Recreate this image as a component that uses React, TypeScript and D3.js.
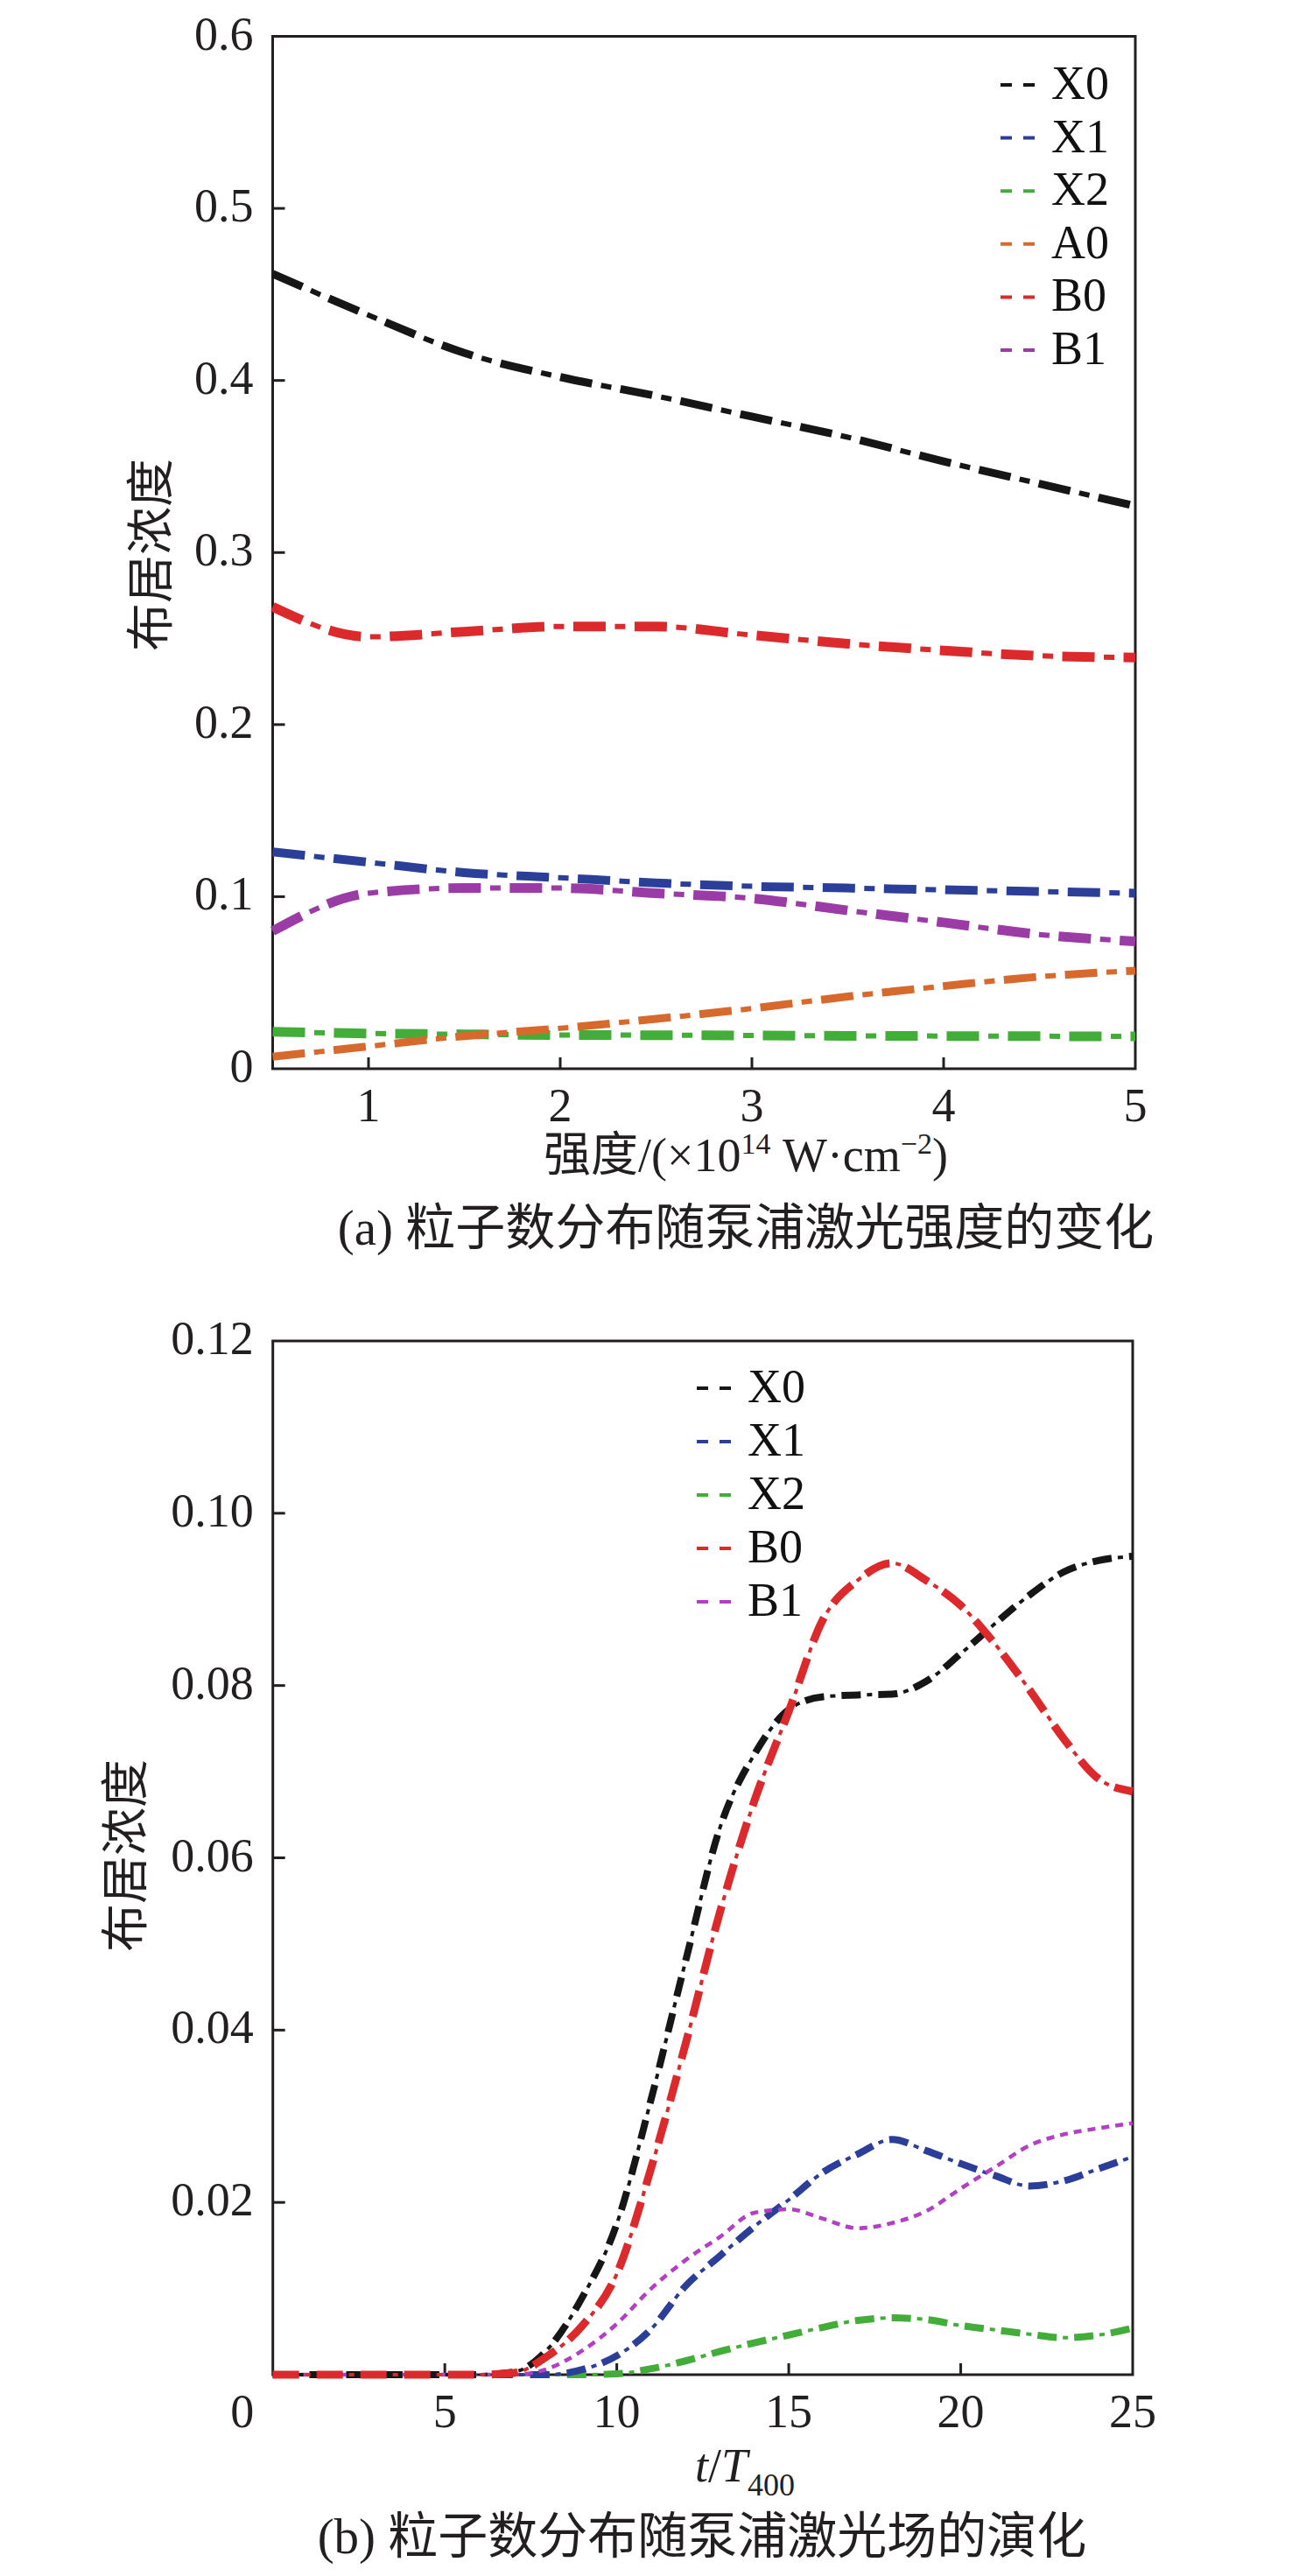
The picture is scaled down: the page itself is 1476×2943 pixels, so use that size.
import * as d3 from 'd3';

const W = 1476;
const H = 2943;
const FONT = "'Liberation Serif', 'Times New Roman', 'Noto Sans CJK SC', serif";
const INK = '#231f20';

// ---- (a) population vs pump intensity ----
const intensity = [0.5, 1, 1.5, 2, 2.5, 3, 3.5, 4, 4.5, 5];
const aX0 = [0.462, 0.438, 0.416, 0.402, 0.391, 0.379, 0.367, 0.353, 0.34, 0.327];
const aX1 = [0.126, 0.12, 0.114, 0.111, 0.108, 0.106, 0.105, 0.104, 0.103, 0.102];
const aX2 = [0.0215, 0.0205, 0.02, 0.0196, 0.0195, 0.0193, 0.0191, 0.019, 0.0189, 0.0188];
const aA0 = [0.007, 0.013, 0.019, 0.0235, 0.029, 0.035, 0.042, 0.048, 0.0535, 0.057];
const aB0 = [0.2685, 0.251, 0.254, 0.257, 0.257, 0.252, 0.247, 0.243, 0.24, 0.239];
const aB1 = [0.08, 0.102, 0.105, 0.105, 0.102, 0.099, 0.092, 0.085, 0.078, 0.074];
const aNames = ['X0', 'X1', 'X2', 'A0', 'B0', 'B1'];
const aColors = ['#161616', '#2c3f98', '#43ad3a', '#d8692c', '#dc2a2c', '#9a3ba6'];
const aWidths = [9, 10, 11, 9, 11, 11];
const aYTicks = [0, 0.1, 0.2, 0.3, 0.4, 0.5, 0.6];
const aXTicks = [1, 2, 3, 4, 5];

// ---- (b) population vs time ----
const time = [0, 1, 2, 3, 4, 5, 6, 7, 8, 9, 10, 11, 12, 13, 14, 15, 16, 17, 18, 19, 20, 21, 22, 23, 24, 25];
const bX0 = [0, 0, 0, 0, 0, 0, 0, 0.0003, 0.003, 0.009, 0.0175, 0.032, 0.048, 0.0635, 0.072, 0.0772,
  0.0787, 0.0789, 0.079, 0.0805, 0.0837, 0.0872, 0.0905, 0.0932, 0.0945, 0.095];
const bX1 = [0, 0, 0, 0, 0, 0, 0, 0, 0, 0.0006, 0.0022, 0.0053, 0.0103, 0.0138, 0.0172, 0.0203,
  0.0235, 0.0256, 0.0273, 0.026, 0.0245, 0.0231, 0.0219, 0.0225, 0.0239, 0.0253];
const bX2 = [0, 0, 0, 0, 0, 0, 0, 0, 0, 0, 0.0001, 0.0007, 0.0016, 0.0027, 0.0037, 0.0046,
  0.0055, 0.0063, 0.0066, 0.0064, 0.0057, 0.0052, 0.0047, 0.0043, 0.0046, 0.0054];
const bB0 = [0, 0, 0, 0, 0, 0, 0, 0.0002, 0.0022, 0.0057, 0.0117, 0.024, 0.0384, 0.0537, 0.0666, 0.077,
  0.0877, 0.0922, 0.0942, 0.0922, 0.0893, 0.0848, 0.0795, 0.0738, 0.0692, 0.0677];
const bB1 = [0, 0, 0, 0, 0, 0, 0, 0, 0.0007, 0.0028, 0.0059, 0.01, 0.0133, 0.016, 0.0188, 0.0192,
  0.0181, 0.017, 0.0176, 0.019, 0.0216, 0.0241, 0.0266, 0.0279, 0.0286, 0.0292];
const bNames = ['X0', 'X1', 'X2', 'B0', 'B1'];
const bColors = ['#161616', '#2c3f98', '#43ad3a', '#dc2a2c', '#b23fc4'];
const bYTicks = [0.02, 0.04, 0.06, 0.08, 0.1, 0.12];
const bYLabels = ['0.02', '0.04', '0.06', '0.08', '0.10', '0.12'];
const bXTicks = [0, 5, 10, 15, 20, 25];

const xA = d3.scaleLinear().domain([0.5, 5]).range([311.5, 1297]);
const yA = d3.scaleLinear().domain([0, 0.6]).range([1221, 41.5]);
const xB = d3.scaleLinear().domain([0, 25]).range([311.7, 1294]);
const yB = d3.scaleLinear().domain([0, 0.12]).range([2713, 1532]);

type Pattern = { dash: number; gap: number; dot: number; w: number; thin: number };

function DashDot({ d, color, p }: { d: string; color: string; p: Pattern }) {
  const period = p.dash + p.gap * 2 + p.dot;
  return (
    <g fill="none" stroke={color}>
      <path d={d} strokeWidth={p.w} strokeDasharray={`${p.dash} ${period - p.dash}`} />
      {p.dot > 0 && (
        <path d={d} strokeWidth={p.thin} strokeDasharray={`0 ${p.dash + p.gap} ${p.dot} ${p.gap}`} />
      )}
    </g>
  );
}

function Frame({ x, y, yTicks, yLabels, xTicks, xLabels, xLabelDx }: any) {
  const [x0, x1] = x.range();
  const [y0, y1] = y.range();
  return (
    <g fontFamily={FONT} fontSize={54} fill={INK}>
      <rect x={x0} y={y1} width={x1 - x0} height={y0 - y1} fill="none" stroke={INK} strokeWidth={3} />
      {yTicks.map((t: number, i: number) => (
        <g key={'y' + i}>
          {t > y.domain()[0] && t < y.domain()[1] && (
            <line x1={x0} x2={x0 + 14} y1={y(t)} y2={y(t)} stroke={INK} strokeWidth={3} />
          )}
          <text x={x0 - 22} y={y(t) + 15} textAnchor="end">{yLabels[i]}</text>
        </g>
      ))}
      {xTicks.map((t: number, i: number) => (
        <g key={'x' + i}>
          {t > x.domain()[0] && t < x.domain()[1] && (
            <line x1={x(t)} x2={x(t)} y1={y0} y2={y0 - 13} stroke={INK} strokeWidth={3} />
          )}
          <text x={x(t) + (xLabelDx ? xLabelDx(t) : 0)} y={y0 + 60} textAnchor="middle">{xLabels[i]}</text>
        </g>
      ))}
    </g>
  );
}

function Legend({ names, colors, x, y, step }: any) {
  return (
    <g fontFamily={FONT} fontSize={54} fill="#111">
      {names.map((n: string, i: number) => (
        <g key={n}>
          <line x1={x} x2={x + 39} y1={y + i * step} y2={y + i * step} stroke={colors[i]}
            strokeWidth={4} strokeDasharray="13 13" />
          <text x={x + 58} y={y + i * step + 16}>{n}</text>
        </g>
      ))}
    </g>
  );
}

export default function App() {
  const lineA = (vals: number[]) =>
    d3.line<number>().x((_, i) => xA(intensity[i])).y(v => yA(v)).curve(d3.curveMonotoneX)(vals) || '';
  const lineB = (vals: number[]) =>
    d3.line<number>().x((_, i) => xB(time[i])).y(v => yB(v)).curve(d3.curveMonotoneX)(vals) || '';

  const aData = [aX0, aX1, aX2, aA0, aB0, aB1];
  const aDrawOrder = [2, 3, 1, 5, 4, 0];
  const bData = [bX0, bX1, bX2, bB0, bB1];
  const bPatterns: Pattern[] = [
    { dash: 22, gap: 7, dot: 6, w: 8, thin: 4 },
    { dash: 22, gap: 7, dot: 6, w: 8, thin: 4 },
    { dash: 22, gap: 7, dot: 6, w: 8, thin: 4 },
    { dash: 30, gap: 7, dot: 6, w: 9, thin: 4 },
    { dash: 9, gap: 3.5, dot: 0, w: 4.5, thin: 0 },
  ];
  const bDrawOrder = [2, 1, 4, 0, 3];

  return (
    <svg width={W} height={H} viewBox={`0 0 ${W} ${H}`}
      style={{ position: 'absolute', left: 0, top: 0, display: 'block', background: '#fff' }}>
      <rect width={W} height={H} fill="#fff" />

      {/* (a) */}
      <Frame x={xA} y={yA} yTicks={aYTicks} yLabels={aYTicks.map(String)}
        xTicks={aXTicks} xLabels={aXTicks.map(String)} />
      {aDrawOrder.map(i => (
        <DashDot key={aNames[i]} d={lineA(aData[i])} color={aColors[i]}
          p={{ dash: 37, gap: 10.5, dot: 12, w: aWidths[i], thin: 6 }} />
      ))}
      <Legend names={aNames} colors={aColors} x={1143} y={97} step={60.6} />
      <text x={172} y={634} transform="rotate(-90 172 634)" textAnchor="middle" dominantBaseline="central"
        fontFamily={FONT} fontSize={55} fill={INK}>布居浓度</text>
      <text x={852} y={1338} textAnchor="middle" fontFamily={FONT} fontSize={54} fill={INK}>
        强度/(×10<tspan fontSize={34} dy={-20}>14</tspan>
        <tspan dy={20}> W·cm</tspan><tspan fontSize={34} dy={-20}>−2</tspan><tspan dy={20}>)</tspan>
      </text>
      <text x={852} y={1422} textAnchor="middle" fontFamily={FONT} fontSize={57} fill={INK}>
        (a) 粒子数分布随泵浦激光强度的变化
      </text>

      {/* (b) */}
      <Frame x={xB} y={yB} yTicks={bYTicks} yLabels={bYLabels}
        xTicks={bXTicks} xLabels={bXTicks.map(String)} xLabelDx={(t: number) => (t === 0 ? -35 : 0)} />
      {bDrawOrder.map(i => (
        <DashDot key={bNames[i]} d={lineB(bData[i])} color={bColors[i]} p={bPatterns[i]} />
      ))}
      <Legend names={bNames} colors={bColors} x={796} y={1586} step={61} />
      <text x={143} y={2120} transform="rotate(-90 143 2120)" textAnchor="middle" dominantBaseline="central"
        fontFamily={FONT} fontSize={55} fill={INK}>布居浓度</text>
      <text x={851} y={2835} textAnchor="middle" fontFamily={FONT} fontSize={54} fill={INK}>
        <tspan fontStyle="italic">t</tspan>/<tspan fontStyle="italic">T</tspan>
        <tspan fontSize={36} dy={16}>400</tspan>
      </text>
      <text x={802} y={2917} textAnchor="middle" fontFamily={FONT} fontSize={57} fill={INK}>
        (b) 粒子数分布随泵浦激光场的演化
      </text>
    </svg>
  );
}
